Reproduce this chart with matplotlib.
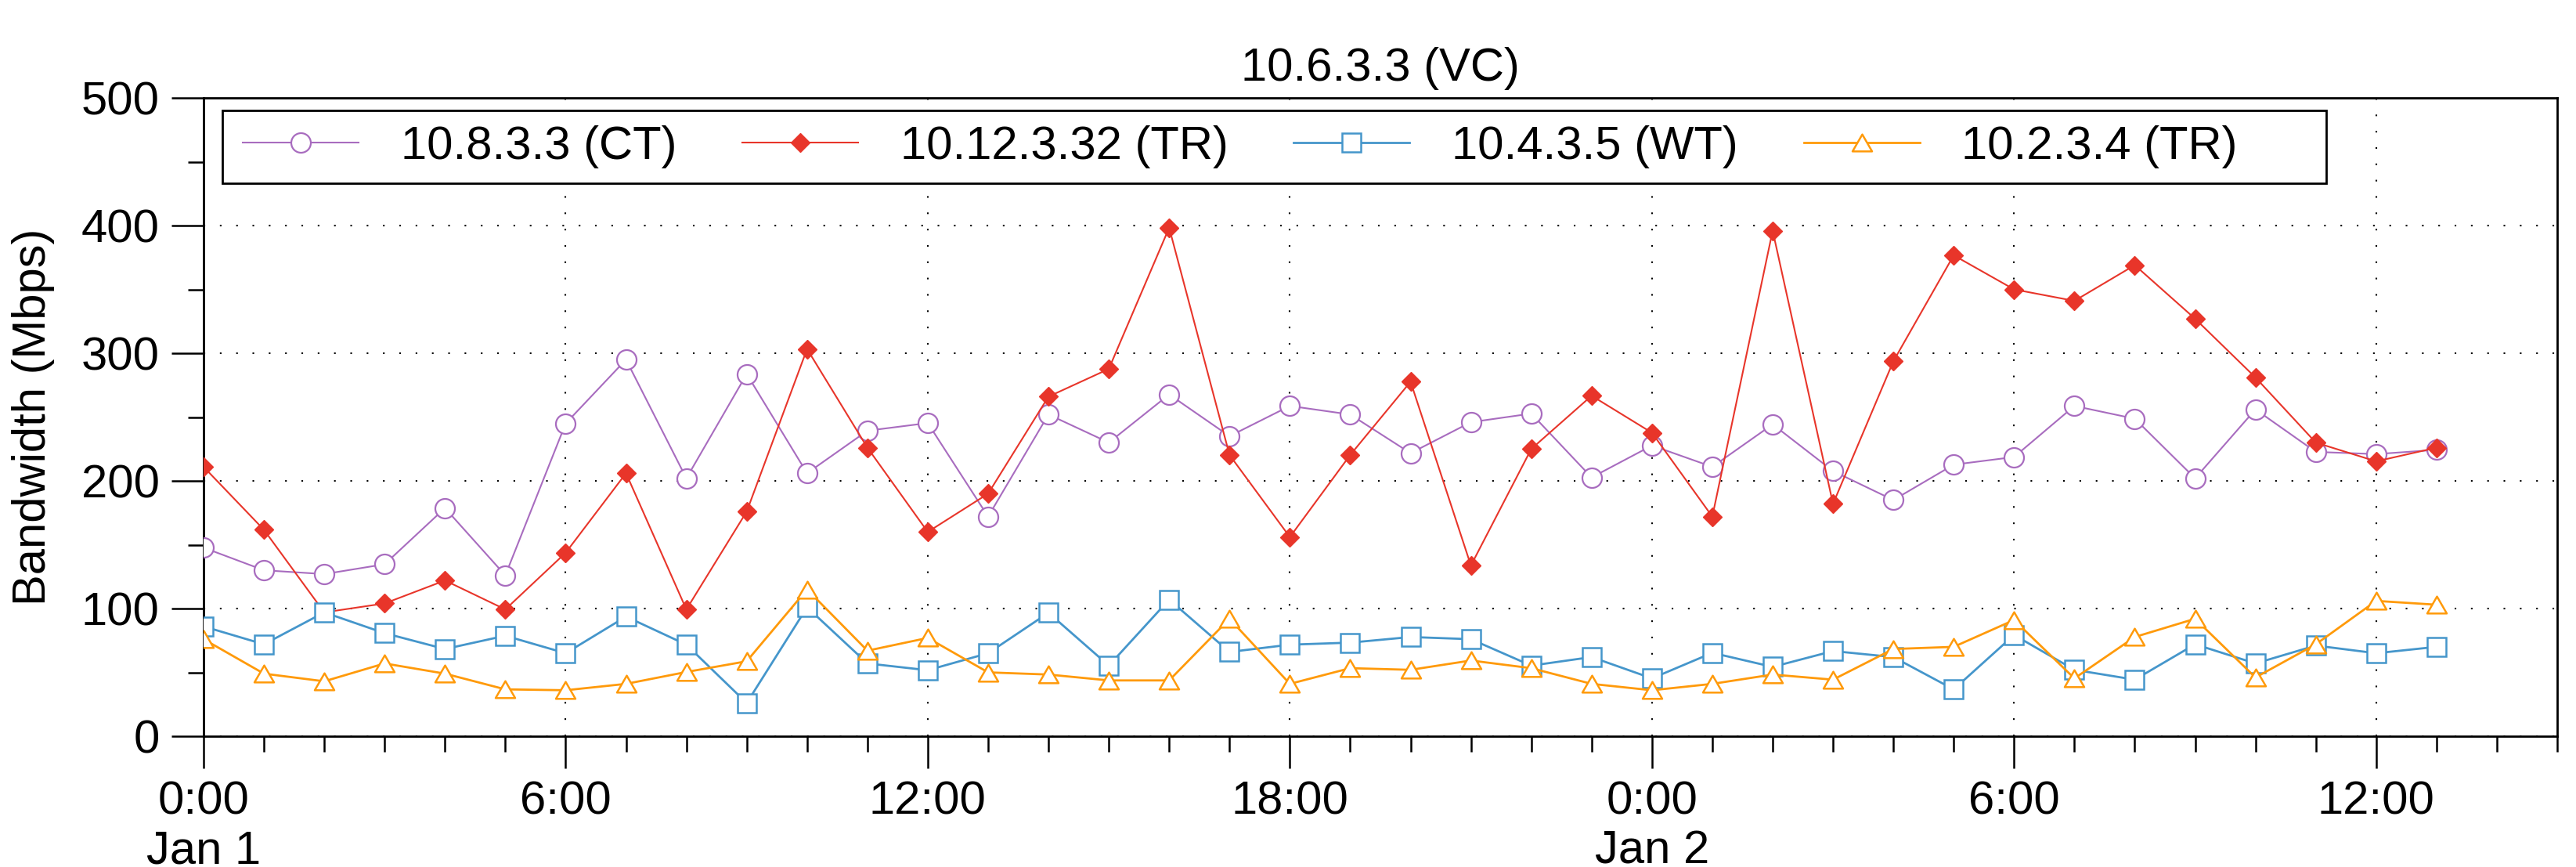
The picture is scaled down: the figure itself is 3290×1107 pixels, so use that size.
import numpy as np
import matplotlib
matplotlib.use("Agg")
import matplotlib.pyplot as plt
from matplotlib.patches import Rectangle
from matplotlib.path import Path

plt.rcParams['font.family'] = ['Liberation Sans', 'DejaVu Sans']

# ---- data ----
hours = np.arange(38)  # hourly samples from Jan 1 0:00 to Jan 2 13:00

ct_10_8_3_3 = [147.7, 130, 127, 134.7, 178.7, 126, 245, 295, 202, 283.7, 206, 239.3,
               245.3, 172, 252, 230, 267.7, 235, 258.7, 252, 221.7, 246, 252.7, 202.7,
               227.7, 211, 244.3, 207.7, 185, 212.7, 218.7, 258.7, 248.7, 202, 256,
               222.7, 221, 224.3]
tr_10_12_3_32 = [211, 161.7, 97, 104, 122, 99.3, 143.7, 206, 99.3, 176, 303.3, 226,
                 160, 190, 266, 287.7, 398.3, 220.3, 156, 220.3, 277.7, 133.7, 225, 266.7,
                 237.7, 172, 396, 182, 293.7, 376.7, 350, 341, 369, 327, 281, 230,
                 215.3, 226]
wt_10_4_3_5 = [86, 72, 97, 80.7, 68.3, 78.7, 65, 93.7, 71.7, 26, 101, 57, 51.7, 65,
               96.7, 55.3, 107, 66, 71.7, 73.3, 77.7, 76, 55.3, 62, 45.3, 65.3, 54.3,
               66.7, 62, 36.7, 79.3, 52, 44.3, 72, 57, 71, 65, 70]
tr_10_2_3_4 = [76, 49, 43, 57, 49, 36.7, 36, 41, 50.3, 58.7, 115, 67, 77, 50, 48.3,
               43.7, 43.7, 92, 41, 53.3, 52, 59.3, 53.3, 41, 36, 41, 48.3, 44.3, 68.3,
               70, 91, 45.3, 77.7, 92, 46, 72, 106, 103]

series_labels = ["10.8.3.3 (CT)", "10.12.3.32 (TR)", "10.4.3.5 (WT)", "10.2.3.4 (TR)"]
title = "10.6.3.3 (VC)"
ylabel = "Bandwidth (Mbps)"
xtick_pos = [0, 6, 12, 18, 24, 30, 36]
xtick_labels = ["0:00\nJan 1", "6:00", "12:00", "18:00", "0:00\nJan 2", "6:00", "12:00"]
ytick_pos = [0, 100, 200, 300, 400, 500]

# ---- figure ----
W, H = 3290, 1107
fig = plt.figure(figsize=(W / 100, H / 100), dpi=100)
L, R, T, B = 260, 3266, 125, 940
ax = fig.add_axes([L / W, (H - B) / H, (R - L) / W, (B - T) / H])

FS = 43
c_purple = '#a86cbf'
c_red = '#e8352a'
c_blue = '#4596cb'
c_orange = '#ff9a0a'

tri = Path([(0, 0.433), (-0.5, -0.433), (0.5, -0.433), (0, 0.433)],
           [Path.MOVETO, Path.LINETO, Path.LINETO, Path.CLOSEPOLY])

ax.plot(hours, ct_10_8_3_3, color=c_purple, lw=1.5, marker='o', ms=18,
        mfc='white', mec=c_purple, mew=1.6, label=series_labels[0], zorder=3)
ax.plot(hours, tr_10_12_3_32, color=c_red, lw=1.5, marker='D', ms=12.5,
        mfc=c_red, mec=c_red, mew=1, label=series_labels[1], zorder=4)
ax.plot(hours, wt_10_4_3_5, color=c_blue, lw=2, marker='s', ms=17,
        mfc='white', mec=c_blue, mew=1.8, label=series_labels[2], zorder=5)
ax.plot(hours, tr_10_2_3_4, color=c_orange, lw=2, marker=tri, ms=18,
        mfc='white', mec=c_orange, mew=1.8, label=series_labels[3], zorder=6)

ax.set_xlim(0, 39)
ax.set_ylim(0, 500)
ax.set_xticks(xtick_pos)
ax.set_xticklabels(xtick_labels, fontsize=FS, linespacing=1.2)
ax.set_xticks([h for h in range(40) if h not in xtick_pos], minor=True)
ax.set_yticks(ytick_pos)
ax.set_yticklabels([str(v) for v in ytick_pos], fontsize=FS)
ax.set_yticks([50, 150, 250, 350, 450], minor=True)

ax.tick_params(which='major', direction='out', length=29.5, width=1.8, pad=11)
ax.tick_params(which='minor', direction='out', length=14.4, width=1.8)
for s in ax.spines.values():
    s.set_linewidth(2.0)
    s.set_color('black')

ax.grid(True, which='major', color='black', lw=1.5, ls=(0, (1, 9)), zorder=1)
ax.set_axisbelow(True)

ax.set_title(title, fontsize=FS, pad=16)
ax.set_ylabel(ylabel, fontsize=FS)
ax.yaxis.set_label_coords(-0.0632, 0.5)

# legend box (fixed-width, gnuplot-like)
ax.add_patch(Rectangle(((284 - L) / (R - L), (B - 234) / (B - T)),
                       (2971 - 284) / (R - L), 93 / (B - T),
                       transform=ax.transAxes, facecolor='white',
                       edgecolor='black', lw=2.0, zorder=8))
leg = ax.legend(loc='center left', bbox_to_anchor=((310 - L) / (R - L), (B - 187.5) / (B - T)),
                ncol=4, frameon=False, fontsize=FS, handlelength=2.48,
                handletextpad=0.9, columnspacing=1.4, borderpad=0, borderaxespad=0)
leg.set_zorder(9)

fig.savefig("out.png", dpi=100)
